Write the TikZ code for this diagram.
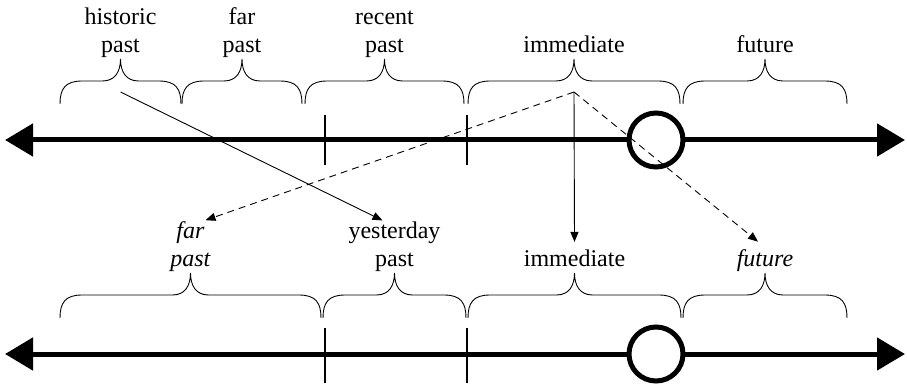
\documentclass[tikz,border=0pt]{standalone}
\usepackage{fontspec}
\setmainfont{Liberation Serif}
\usetikzlibrary{arrows.meta, positioning}

% brace with its tip up: #1 name of the tip, #2 left x, #3 right x, #4 foot y
\newcommand{\timebrace}[4]{%
	\draw[brace line] (#2,#4) .. controls (#2,#4+15) and (#2+5,#4+23) .. (#2+22,#4+23)
		-- ({(#2+#3)/2-18},#4+23) .. controls ({(#2+#3)/2-5},#4+23) and ({(#2+#3)/2},#4+33) .. ({(#2+#3)/2},#4+45)
		.. controls ({(#2+#3)/2},#4+33) and ({(#2+#3)/2+5},#4+23) .. ({(#2+#3)/2+18},#4+23)
		-- (#3-22,#4+23) .. controls (#3-5,#4+23) and (#3,#4+15) .. (#3,#4);
	\coordinate (#1) at ({(#2+#3)/2},#4+45);%
}

\begin{document}
\begin{tikzpicture}[x=1pt, y=1pt, >={Triangle[length=10pt,width=8pt]},
	axis/.style={line width=5pt, {Triangle[length=28pt,width=32pt]}-{Triangle[length=28pt,width=32pt]}},
	divider/.style={line width=2pt},
	now/.style={circle, draw, line width=5pt, fill=white, minimum size=54pt, inner sep=0pt},
	lbl/.style={align=center, inner sep=1pt, text depth=5pt, font=\fontsize{24}{28.5}\selectfont},
	brace line/.style={line width=0.9pt},
	guess/.style={->, line width=0.9pt, dash pattern=on 7pt off 5pt}]

	\useasboundingbox (0,0) rectangle (907,383);

	% upper time line
	\coordinate (top-l) at (5,243);
	\coordinate (top-r) at (905,243);
	\draw[axis] (top-l) -- (top-r);
	\draw[divider] (325,218) -- (325,268);
	\draw[divider] (467,218) -- (467,268);
	\node[now] (now-top) at (656,243) {};

	\timebrace{tb-hist}{60}{181}{279}
	\timebrace{tb-far}{182}{302}{279}
	\timebrace{tb-rec}{305}{464}{279}
	\timebrace{tb-imm}{468}{680}{279}
	\timebrace{tb-fut}{683}{847}{279}

	\node[lbl, above=0pt of tb-hist] (t-hist) {historic\\past};
	\node[lbl, above=0pt of tb-far] (t-far) {far\\past};
	\node[lbl, above=0pt of tb-rec] (t-rec) {recent\\past};
	\node[lbl, above=0pt of tb-imm] (t-imm) {immediate};
	\node[lbl, above=0pt of tb-fut] (t-fut) {future};

	% lower time line
	\coordinate (bot-l) at (5,29);
	\coordinate (bot-r) at (905,29);
	\draw[axis] (bot-l) -- (bot-r);
	\draw[divider] (325,0) -- (325,55);
	\draw[divider] (467,0) -- (467,55);
	\node[now] (now-bot) at (656,29) {};

	\timebrace{bb-far}{60}{321}{65}
	\timebrace{bb-yest}{323}{466}{65}
	\timebrace{bb-imm}{468}{681}{65}
	\timebrace{bb-fut}{683}{847}{65}

	\node[lbl, above=0pt of bb-far] (b-far) {\textit{far}\\\textit{past}};
	\node[lbl, above=0pt of bb-yest] (b-yest) {yesterday\\past};
	\node[lbl, above=0pt of bb-imm] (b-imm) {immediate};
	\node[lbl, above=0pt of bb-fut] (b-fut) {\textit{future}};

	% where the words go
	\coordinate (s-hist) at ([yshift=-33pt]tb-hist);
	\coordinate (s-imm) at ([yshift=-33pt]tb-imm);
	\coordinate (e-yest) at ([xshift=-12pt]b-yest.north);
	\coordinate (e-far) at ([xshift=15pt]b-far.north);
	\coordinate (e-imm) at ([yshift=7pt]b-imm.north);
	\coordinate (e-fut) at ([xshift=-7pt,yshift=7pt]b-fut.north);

	\draw[->, line width=0.9pt] (s-hist) -- (e-yest);
	\draw[->, line width=0.9pt] (s-imm) -- (e-imm);
	\draw[guess] (s-imm) -- (e-far);
	\draw[guess] (s-imm) -- (e-fut);

\end{tikzpicture}
\end{document}
